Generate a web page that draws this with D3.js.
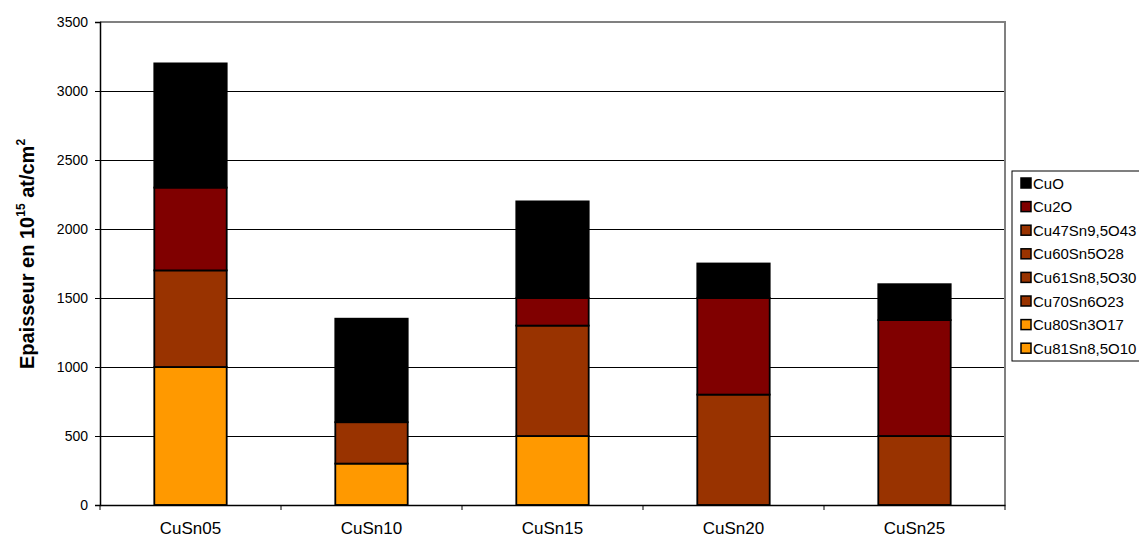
<!DOCTYPE html>
<html>
<head>
<meta charset="utf-8">
<script src="https://cdn.jsdelivr.net/npm/d3@7"></script>
<style>
  html, body { margin: 0; padding: 0; background: #fff; overflow: hidden; }
  svg { display: block; font-family: "Liberation Sans", Arial, sans-serif; }
</style>
</head>
<body>
<svg id="chart" width="1139" height="539"></svg>
<script>
// Samples along the x axis
const categories = ["CuSn05", "CuSn10", "CuSn15", "CuSn20", "CuSn25"];

// Layer thicknesses (10^15 at/cm²), one array per phase, bottom of the stack first
const cu81Sn85O10 = [1000, 0, 0, 0, 0];
const cu80Sn3O17  = [0, 300, 500, 0, 0];
const cu70Sn6O23  = [700, 0, 0, 0, 0];
const cu61Sn85O30 = [0, 300, 0, 0, 0];
const cu60Sn5O28  = [0, 0, 800, 0, 0];
const cu47Sn95O43 = [0, 0, 0, 800, 500];
const cu2O        = [600, 0, 200, 700, 840];
const cuO         = [900, 750, 700, 250, 260];

const seriesNames = ["Cu81Sn8,5O10", "Cu80Sn3O17", "Cu70Sn6O23", "Cu61Sn8,5O30",
                     "Cu60Sn5O28", "Cu47Sn9,5O43", "Cu2O", "CuO"];
const seriesValues = [cu81Sn85O10, cu80Sn3O17, cu70Sn6O23, cu61Sn85O30,
                      cu60Sn5O28, cu47Sn95O43, cu2O, cuO];
const seriesColors = ["#FF9900", "#FF9900", "#993300", "#993300",
                      "#993300", "#993300", "#800000", "#000000"];

const yTicks = [0, 500, 1000, 1500, 2000, 2500, 3000, 3500];

const svg = d3.select("#chart");
const plot = { left: 100, right: 1005, top: 22, bottom: 505 };

const x = d3.scaleBand().domain(categories).range([plot.left, plot.right]).paddingInner(0.6).paddingOuter(0.3);
const xBand = d3.scaleBand().domain(categories).range([plot.left, plot.right]);
const y = d3.scaleLinear().domain([0, 3500]).range([plot.bottom, plot.top]);

// Build stacked table
const rows = categories.map((c, i) => {
  const r = { cat: c };
  seriesNames.forEach((n, k) => r[n] = seriesValues[k][i]);
  return r;
});
const stacked = d3.stack().keys(seriesNames)(rows);

// Gridlines
svg.append("g").selectAll("line").data(yTicks.filter(t => t > 0 && t < 3500)).join("line")
  .attr("x1", plot.left).attr("x2", plot.right)
  .attr("y1", d => y(d)).attr("y2", d => y(d))
  .attr("stroke", "#000").attr("stroke-width", 1).attr("shape-rendering", "crispEdges");

// Plot frame (top and right)
svg.append("path")
  .attr("d", `M${plot.left},${plot.top}H${plot.right}V${plot.bottom}`)
  .attr("fill", "none").attr("stroke", "#808080").attr("stroke-width", 2);

// Bars
stacked.forEach((layer, k) => {
  svg.append("g").selectAll("rect")
    .data(layer.filter(d => d[1] - d[0] > 0)).join("rect")
    .attr("x", d => x(d.data.cat))
    .attr("width", x.bandwidth())
    .attr("y", d => y(d[1]))
    .attr("height", d => y(d[0]) - y(d[1]))
    .attr("fill", seriesColors[k])
    .attr("stroke", "#000").attr("stroke-width", 1.8);
});

// Y axis
const yAxis = d3.axisLeft(y).tickValues(yTicks).tickSize(5).tickPadding(7).tickFormat(d3.format("d"));
const gy = svg.append("g").attr("transform", `translate(${plot.left},0)`).call(yAxis);
gy.select(".domain").attr("stroke", "#000").attr("stroke-width", 1.5);
gy.selectAll(".tick line").attr("stroke", "#000");
gy.selectAll("text").attr("font-size", 14).attr("fill", "#000")
  .attr("font-family", "'Liberation Sans', Arial, sans-serif");

// X axis
const xAxis = d3.axisBottom(xBand).tickSize(0).tickPadding(17);
const gx = svg.append("g").attr("transform", `translate(0,${plot.bottom})`).call(xAxis);
gx.select(".domain").attr("stroke", "#000").attr("stroke-width", 1.5);
gx.selectAll("text").attr("font-size", 17).attr("fill", "#000")
  .attr("font-family", "'Liberation Sans', Arial, sans-serif");
// Category separator ticks
svg.append("g").selectAll("line")
  .data(categories.concat(["__end"])).join("line")
  .attr("x1", (d, i) => plot.left + i * xBand.step())
  .attr("x2", (d, i) => plot.left + i * xBand.step())
  .attr("y1", plot.bottom).attr("y2", plot.bottom + 5)
  .attr("stroke", "#000").attr("stroke-width", 1);

// Y axis title
const title = svg.append("text")
  .attr("transform", "translate(34,254) rotate(-90)")
  .attr("text-anchor", "middle")
  .attr("font-size", 20).attr("font-weight", "bold").attr("fill", "#000");
title.append("tspan").text("Epaisseur en 10");
title.append("tspan").attr("dy", -9).attr("font-size", 12).text("15");
title.append("tspan").attr("dy", 9).text(" at/cm");
title.append("tspan").attr("dy", -9).attr("font-size", 12).text("2");

// Legend
const legend = svg.append("g");
legend.append("rect").attr("x", 1012).attr("y", 171).attr("width", 140).attr("height", 190)
  .attr("fill", "#fff").attr("stroke", "#000").attr("stroke-width", 1);
const legendItems = seriesNames.map((n, k) => ({ name: n, color: seriesColors[k] })).reverse();
const li = legend.selectAll("g.item").data(legendItems).join("g").attr("class", "item")
  .attr("transform", (d, i) => `translate(1021,${183 + i * 23.6})`);
li.append("rect").attr("x", 0).attr("y", -5).attr("width", 10).attr("height", 10)
  .attr("fill", d => d.color).attr("stroke", "#000").attr("stroke-width", 1.5);
li.append("text").attr("x", 12).attr("y", 5.5).attr("font-size", 15).attr("fill", "#000")
  .text(d => d.name);
</script>
</body>
</html>
